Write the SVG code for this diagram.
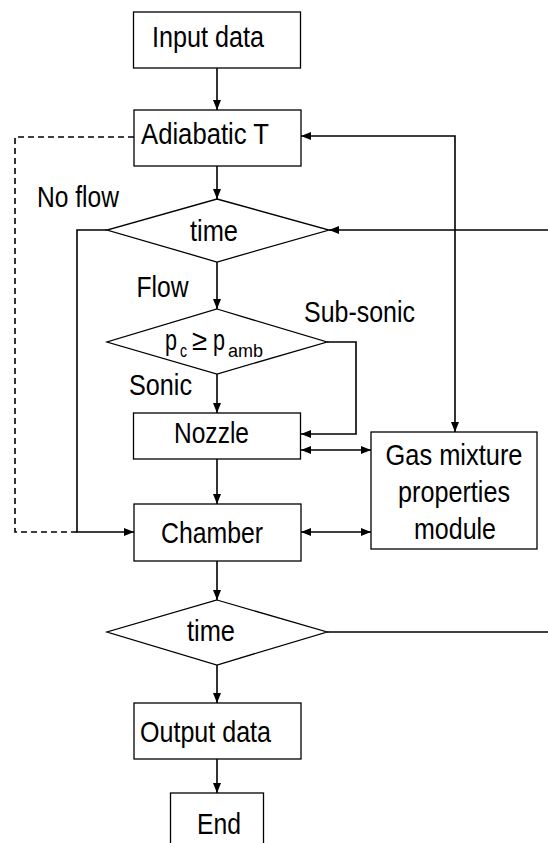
<svg xmlns="http://www.w3.org/2000/svg" width="548" height="843" viewBox="0 0 548 843">
<style>
.box{fill:#fff;stroke:#000;stroke-width:1.3}
.c{fill:none;stroke:#000;stroke-width:1.6}
.d{fill:none;stroke:#000;stroke-width:1.6;stroke-dasharray:6,4}
text{font-family:"Liberation Sans",Arial,sans-serif;font-size:29px;fill:#000}
.sub{font-size:18px}
</style>
<defs>
<marker id="ah" markerUnits="userSpaceOnUse" markerWidth="10" markerHeight="8" refX="10" refY="4" orient="auto-start-reverse">
<path d="M0,0 L10,4 L0,8 z" fill="#000"/>
</marker>
</defs>
<rect width="548" height="843" fill="#fff"/>
<g id="connectors">
<line class="c" x1="217" y1="68" x2="217" y2="110" marker-end="url(#ah)"/>
<line class="c" x1="217" y1="166" x2="217" y2="199" marker-end="url(#ah)"/>
<line class="c" x1="217" y1="262" x2="217" y2="309" marker-end="url(#ah)"/>
<line class="c" x1="217" y1="374" x2="217" y2="413" marker-end="url(#ah)"/>
<line class="c" x1="217" y1="459" x2="217" y2="504" marker-end="url(#ah)"/>
<line class="c" x1="217" y1="561" x2="217" y2="600" marker-end="url(#ah)"/>
<line class="c" x1="217" y1="665" x2="217" y2="703" marker-end="url(#ah)"/>
<line class="c" x1="217" y1="759" x2="217" y2="793" marker-end="url(#ah)"/>
<path class="c" d="M301,136 H455 V432" marker-start="url(#ah)" marker-end="url(#ah)"/>
<line class="c" x1="548" y1="230" x2="329" y2="230" marker-end="url(#ah)"/>
<line class="c" x1="327" y1="632" x2="548" y2="632"/>
<path class="c" d="M107,230 H77 V532 H134" marker-end="url(#ah)"/>
<path class="d" d="M134,137 H15 V532 H77"/>
<path class="c" d="M327,342 H356 V434 H301" marker-end="url(#ah)"/>
<line class="c" x1="301" y1="450" x2="371" y2="450" marker-start="url(#ah)" marker-end="url(#ah)"/>
<line class="c" x1="301" y1="532" x2="371" y2="532" marker-start="url(#ah)" marker-end="url(#ah)"/>
</g>
<g id="input"><rect class="box" x="133.5" y="12" width="167" height="56"/><text x="152" y="47" textLength="112" lengthAdjust="spacingAndGlyphs">Input data</text></g>
<g id="adiabatic"><rect class="box" x="134" y="110" width="167" height="56"/><text x="141" y="144" textLength="128" lengthAdjust="spacingAndGlyphs">Adiabatic T</text></g>
<g id="time1"><polygon class="box" points="217,199 329,230 217,262 107,230"/><text x="190" y="241" textLength="48" lengthAdjust="spacingAndGlyphs">time</text></g>
<g id="pressure"><polygon class="box" points="217,309 327,342 217,374 107,342"/>
<text x="165" y="350" textLength="12" lengthAdjust="spacingAndGlyphs">p</text>
<text class="sub" x="180" y="357" textLength="7" lengthAdjust="spacingAndGlyphs">c</text>
<text x="192" y="350" textLength="15" lengthAdjust="spacingAndGlyphs">≥</text>
<text x="213" y="350" textLength="12" lengthAdjust="spacingAndGlyphs">p</text>
<text class="sub" x="228" y="357" textLength="35" lengthAdjust="spacingAndGlyphs">amb</text>
</g>
<g id="nozzle"><rect class="box" x="133.5" y="413" width="167" height="46"/><text x="174" y="443" textLength="75" lengthAdjust="spacingAndGlyphs">Nozzle</text></g>
<g id="gas"><rect class="box" x="371" y="432" width="166" height="117"/>
<text x="454" y="465" text-anchor="middle" textLength="137" lengthAdjust="spacingAndGlyphs">Gas mixture</text>
<text x="454" y="502" text-anchor="middle" textLength="112" lengthAdjust="spacingAndGlyphs">properties</text>
<text x="455" y="539" text-anchor="middle" textLength="82" lengthAdjust="spacingAndGlyphs">module</text>
</g>
<g id="chamber"><rect class="box" x="134" y="504" width="167" height="57"/><text x="161" y="543" textLength="102" lengthAdjust="spacingAndGlyphs">Chamber</text></g>
<g id="time2"><polygon class="box" points="217,600 327,632 217,665 107,632"/><text x="187" y="641" textLength="48" lengthAdjust="spacingAndGlyphs">time</text></g>
<g id="output"><rect class="box" x="134" y="703" width="167" height="56"/><text x="140" y="742" textLength="131" lengthAdjust="spacingAndGlyphs">Output data</text></g>
<g id="end"><rect class="box" x="170.5" y="793" width="93" height="60"/><text x="197" y="834" textLength="44" lengthAdjust="spacingAndGlyphs">End</text></g>
<g id="labels">
<text x="37" y="207" textLength="82" lengthAdjust="spacingAndGlyphs">No flow</text>
<text x="136.5" y="297" textLength="52" lengthAdjust="spacingAndGlyphs">Flow</text>
<text x="304" y="322" textLength="111" lengthAdjust="spacingAndGlyphs">Sub-sonic</text>
<text x="129" y="395" textLength="63" lengthAdjust="spacingAndGlyphs">Sonic</text>
</g>
</svg>
